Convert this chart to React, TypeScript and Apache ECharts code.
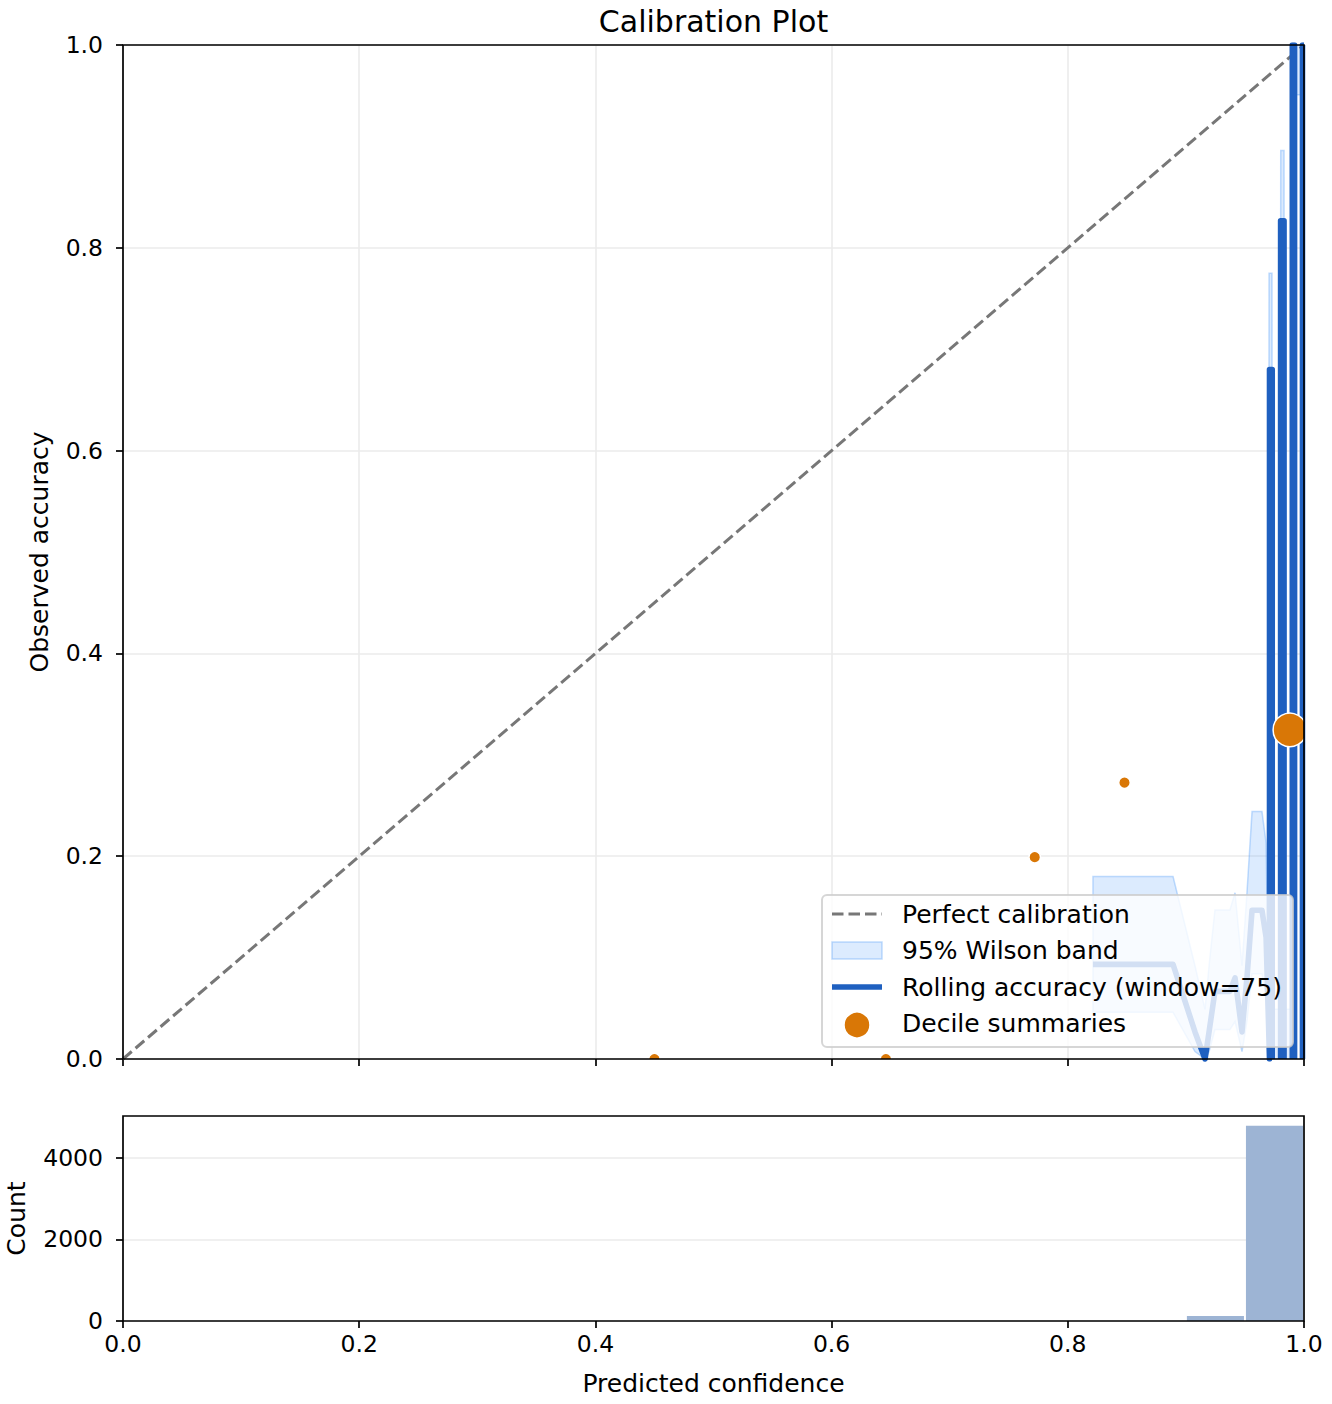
import React, { useEffect, useRef } from 'react';
import * as echarts from 'echarts';

// rolling accuracy (window=75), sorted by predicted confidence; null = gap in the line
const rollX = [0.8213, 0.8891, 0.9077, 0.9162, 0.9196, 0.9246, 0.9373, 0.9416, 0.9475, 0.9517, 0.956, 0.9644, 0.9679, 0.9708, 0.9708, 0.9731, 0.9731, 0.976, 0.9802, 0.9802, 0.9831, 0.9831, 0.986, 0.9901, 0.9901, 0.992, 0.992, 0.995, 0.9987, 0.9987, 1.0];
const rollY = [0.0933, 0.0933, 0.0267, 0, 0.0267, 0.0667, 0.0667, 0.08, 0.0267, 0.08, 0.1467, 0.1467, 0.12, 0, 0.68, 0.68, 0, null, 0, 0.8267, 0.8267, 0, null, 0, 1.0, 1.0, 0, null, 0, 1.0, 1.0];

// 95% Wilson band around it
const bandX = [0.8213, 0.8891, 0.9077, 0.9162, 0.9196, 0.9246, 0.9373, 0.9416, 0.9475, 0.9517, 0.956, 0.9644, 0.9679, 0.97, 0.9704, 0.9729, 0.9733, 0.9798, 0.9803, 0.9831, 0.9835, 0.9897, 0.9901, 1.0];
const bandLo = [0.046, 0.046, 0.0073, 0, 0.0073, 0.029, 0.029, 0.037, 0.0073, 0.037, 0.084, 0.084, 0.064, 0, 0.568, 0.568, 0, 0, 0.726, 0.726, 0, 0, 0.951, 0.951];
const bandHi = [0.18, 0.18, 0.092, 0.049, 0.092, 0.147, 0.147, 0.164, 0.092, 0.164, 0.244, 0.244, 0.213, 0.049, 0.775, 0.775, 0.049, 0.049, 0.896, 0.896, 0.049, 0.049, 1.0, 1.0];

// decile summaries
const decileX = [0.45, 0.646, 0.772, 0.848, 0.988];
const decileY = [0.0, 0.0, 0.199, 0.2725, 0.3245];
const decileCount = [5, 8, 15, 22, 4860];

// histogram of predicted confidence
const histStart = [0.9, 0.95];
const histEnd = [0.95, 1.0];
const histCount = [120, 4790];

const accTicks = [0, 0.2, 0.4, 0.6, 0.8, 1.0];
const countTicks = [0, 2000, 4000];

const MAIN = { left: 123, top: 45, width: 1181, height: 1014 };
const HIST = { left: 123, top: 1116, width: 1181, height: 205 };
const W = 1332;
const H = 1404;

const FONT = '"DejaVu Sans", "Liberation Sans", sans-serif';
const BLUE = '#1f60c0';
const ORANGE = '#d97706';
const BAND_FILL = 'rgba(96,165,250,0.22)';
const BAND_EDGE = 'rgba(96,165,250,0.38)';
const GRID = '#ebebeb';
const HIST_COLOR = '#9db4d4';

const tickLabel = { color: '#000', fontSize: 23.5, fontFamily: FONT };
const axisName = { color: '#000', fontSize: 25, fontFamily: FONT };
const tickStyle = { show: true, length: 7, lineStyle: { color: '#000', width: 1.7 } };

export default function App() {
  const ref = useRef<HTMLDivElement>(null);

  useEffect(() => {
    if (!ref.current) return;
    const chart = echarts.init(ref.current, null, { renderer: 'svg' });

    const legendText = (text: string, y: number) => ({
      type: 'text', z: 101, x: 902, y,
      style: { text, fill: '#000', font: `25px ${FONT}`, textVerticalAlign: 'middle' },
    });

    const option = {
      animation: false,
      backgroundColor: '#fff',
      grid: [
        { left: MAIN.left, top: MAIN.top, width: MAIN.width, height: MAIN.height, outerBoundsMode: 'none' },
        { left: HIST.left, top: HIST.top, width: HIST.width, height: HIST.height, outerBoundsMode: 'none' },
      ],
      xAxis: [
        {
          type: 'value', gridIndex: 0, min: 0, max: 1, interval: 0.2,
          axisLine: { show: false },
          axisTick: tickStyle,
          axisLabel: { show: false },
          splitLine: { show: true, lineStyle: { color: GRID, width: 1.6 } },
        },
        {
          type: 'value', gridIndex: 1, min: 0, max: 1, interval: 0.2,
          name: 'Predicted confidence', nameLocation: 'middle', nameGap: 50, nameTextStyle: axisName,
          axisLine: { show: false },
          axisTick: tickStyle,
          axisLabel: { ...tickLabel, margin: 11, formatter: (v: number) => v.toFixed(1) },
          splitLine: { show: false },
        },
      ],
      yAxis: [
        {
          type: 'value', gridIndex: 0, min: 0, max: 1, interval: 0.2,
          name: 'Observed accuracy', nameLocation: 'middle', nameGap: 71, nameTextStyle: axisName,
          axisLine: { show: false },
          axisTick: { ...tickStyle, customValues: accTicks },
          axisLabel: { ...tickLabel, margin: 20, customValues: accTicks, formatter: (v: number) => v.toFixed(1) },
          splitLine: { show: true, lineStyle: { color: GRID, width: 1.6 } },
        },
        {
          type: 'value', gridIndex: 1, min: 0, max: 5030, interval: 2000,
          name: 'Count', nameLocation: 'middle', nameGap: 94, nameTextStyle: axisName,
          axisLine: { show: false },
          axisTick: { ...tickStyle, customValues: countTicks },
          axisLabel: { ...tickLabel, margin: 20, customValues: countTicks, formatter: (v: number) => String(v) },
          splitLine: { show: true, lineStyle: { color: GRID, width: 1.6 } },
        },
      ],
      series: [
        {
          name: 'Perfect calibration',
          type: 'line', xAxisIndex: 0, yAxisIndex: 0, z: 3,
          data: [[0, 0], [1, 1]],
          symbol: 'none',
          lineStyle: { color: '#777777', width: 3, type: [11.5, 5] },
        },
        {
          name: '95% Wilson band',
          type: 'custom', xAxisIndex: 0, yAxisIndex: 0, z: 2, clip: true,
          data: bandX.map((x, i) => [x, bandLo[i], bandHi[i]]),
          encode: { x: 0, y: [1, 2] },
          renderItem: (params: any, api: any) => {
            if (params.dataIndex !== 0) return { type: 'group', children: [] };
            const upper = bandX.map((x, i) => api.coord([x, bandHi[i]]));
            const lower = bandX.map((x, i) => api.coord([x, bandLo[i]])).reverse();
            return {
              type: 'polygon',
              shape: { points: upper.concat(lower) },
              style: { fill: BAND_FILL, stroke: BAND_EDGE, lineWidth: 1.5 },
            };
          },
        },
        {
          name: 'Rolling accuracy (window=75)',
          type: 'line', xAxisIndex: 0, yAxisIndex: 0, z: 4,
          data: rollX.map((x, i) => [x, rollY[i] === null ? '-' : rollY[i]]),
          symbol: 'none',
          connectNulls: false,
          lineStyle: { color: BLUE, width: 5.6, join: 'round' },
        },
        {
          name: 'Decile summaries',
          type: 'custom', xAxisIndex: 0, yAxisIndex: 0, z: 5, clip: true,
          data: decileX.map((x, i) => [x, decileY[i], decileCount[i]]),
          encode: { x: 0, y: 1 },
          renderItem: (params: any, api: any) => {
            const p = api.coord([api.value(0), api.value(1)]);
            const n = api.value(2) as number;
            const r = Math.max(5.8, Math.min(16.8, Math.sqrt(n) * 0.24));
            return {
              type: 'circle',
              shape: { cx: p[0], cy: p[1], r },
              style: { fill: ORANGE, stroke: '#fff', lineWidth: 1.5 },
            };
          },
        },
        {
          name: 'Count',
          type: 'custom', xAxisIndex: 1, yAxisIndex: 1, z: 2, clip: true,
          data: histStart.map((x, i) => [x, histEnd[i], histCount[i]]),
          encode: { x: [0, 1], y: 2 },
          renderItem: (params: any, api: any) => {
            const p0 = api.coord([api.value(0), 0]);
            const p1 = api.coord([api.value(1), api.value(2)]);
            return {
              type: 'rect',
              shape: { x: p0[0] + 1, y: p1[1], width: p1[0] - p0[0] - 2, height: p0[1] - p1[1] },
              style: { fill: HIST_COLOR },
            };
          },
        },
      ],
      graphic: [
        {
          type: 'text', z: 100, x: MAIN.left + MAIN.width / 2, y: 21,
          style: { text: 'Calibration Plot', fill: '#000', font: `30px ${FONT}`, textAlign: 'center', textVerticalAlign: 'middle' },
        },
        // axes frames drawn over the series, like matplotlib spines
        {
          type: 'rect', z: 50, silent: true,
          shape: { x: MAIN.left, y: MAIN.top, width: MAIN.width, height: MAIN.height },
          style: { fill: 'none', stroke: '#000', lineWidth: 1.7 },
        },
        {
          type: 'rect', z: 50, silent: true,
          shape: { x: HIST.left, y: HIST.top, width: HIST.width, height: HIST.height },
          style: { fill: 'none', stroke: '#000', lineWidth: 1.7 },
        },
        // legend
        {
          type: 'rect', z: 100,
          shape: { x: 822, y: 895, width: 471, height: 152, r: 5 },
          style: { fill: 'rgba(255,255,255,0.8)', stroke: 'rgba(204,204,204,0.8)', lineWidth: 2 },
        },
        {
          type: 'line', z: 101,
          shape: { x1: 832, y1: 914, x2: 882, y2: 914 },
          style: { stroke: '#777777', lineWidth: 3, lineDash: [11.5, 5] },
        },
        {
          type: 'rect', z: 101,
          shape: { x: 832, y: 942, width: 50, height: 17 },
          style: { fill: BAND_FILL, stroke: BAND_EDGE, lineWidth: 1.5 },
        },
        {
          type: 'line', z: 101,
          shape: { x1: 832, y1: 987, x2: 882, y2: 987 },
          style: { stroke: BLUE, lineWidth: 5.6 },
        },
        {
          type: 'circle', z: 101,
          shape: { cx: 857, cy: 1025, r: 13 },
          style: { fill: ORANGE, stroke: '#fff', lineWidth: 1.5 },
        },
        legendText('Perfect calibration', 914),
        legendText('95% Wilson band', 950),
        legendText('Rolling accuracy (window=75)', 987),
        legendText('Decile summaries', 1023),
      ],
    };

    chart.setOption(option as any);
    return () => chart.dispose();
  }, []);

  return (
    <div
      ref={ref}
      style={{ position: 'absolute', left: 0, top: 0, width: `${W}px`, height: `${H}px` }}
    />
  );
}
